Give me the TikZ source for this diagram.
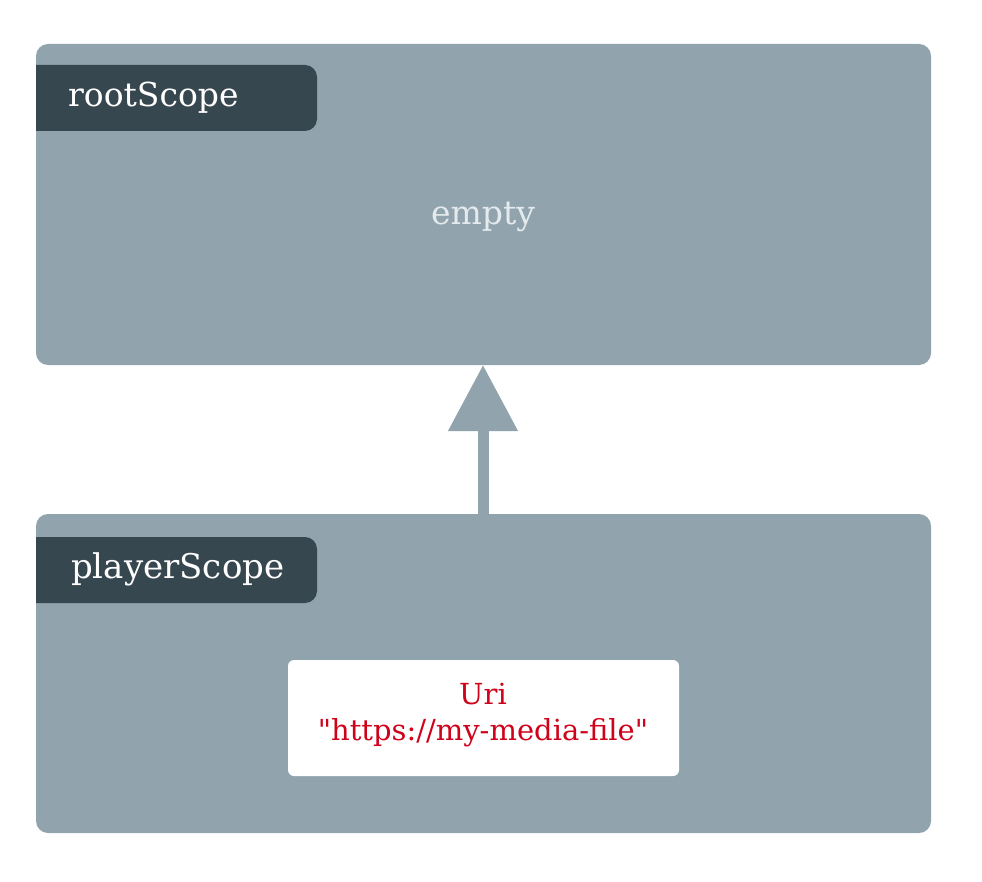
\documentclass[tikz,border=0pt]{standalone}
\usepackage{fontspec}
\setmainfont{DejaVu Serif}[Ligatures=TeXOff]
\usetikzlibrary{arrows.meta}
\definecolor{scopegray}{HTML}{91A4AD}
\definecolor{tabdark}{HTML}{37474F}
\definecolor{softtext}{HTML}{E4EAED}
\definecolor{urired}{HTML}{D0021B}
\begin{document}
\begin{tikzpicture}[x=1pt,y=-1pt,
  scopebox/.style={fill=scopegray,rounded corners=12pt},
  tabbox/.style={fill=tabdark},
  tablabel/.style={text=white,font=\fontsize{33}{36}\selectfont,anchor=west,inner sep=0pt},
  valbox/.style={fill=white,rounded corners=6pt,draw=none}]
\useasboundingbox (0,0) rectangle (982,882);
% root scope
\fill[scopebox] (36,44) rectangle (931,365);
\coordinate (roottop) at (483,365);
\fill[tabdark] (36,65) -- (305,65) arc[start angle=-90,end angle=0,radius=12] -- (317,119) arc[start angle=0,end angle=90,radius=12] -- (36,131) -- cycle;
\node[tablabel] (rootlbl) at (68,98) {rootScope};
\node[text=softtext,font=\fontsize{33}{36}\selectfont,inner sep=0pt] (empty) at (483,217) {empty};
% player scope
\fill[scopebox] (36,514) rectangle (931,833);
\coordinate (playtop) at (483,514);
\fill[tabdark] (36,537) -- (305,537) arc[start angle=-90,end angle=0,radius=12] -- (317,591) arc[start angle=0,end angle=90,radius=12] -- (36,603) -- cycle;
\node[tablabel,font=\fontsize{34}{36}\selectfont] (playlbl) at (71,569) {playerScope};
\fill[valbox] (288,660) rectangle (679,776);
\node[text=urired,font=\fontsize{29}{36}\selectfont,align=center,inner sep=0pt] (uri) at (483,715) {Uri\\"https://my-media-file"};
% arrow
\draw[scopegray,line width=11pt,-{Triangle[width=67pt,length=66pt]}] (playtop) -- (roottop);
\end{tikzpicture}
\end{document}
